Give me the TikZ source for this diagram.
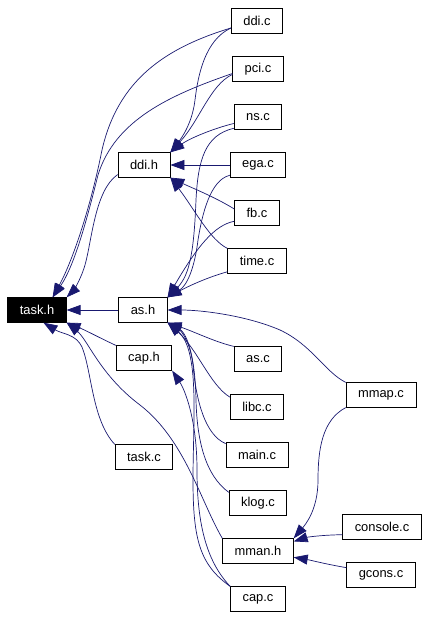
\documentclass[tikz,border=0pt]{standalone}
\usepackage{fontspec}
\setmainfont{Liberation Sans}
\usetikzlibrary{arrows.meta}
\definecolor{edgeblue}{RGB}{25,25,112}

\begin{document}
\begin{tikzpicture}[x=1pt,y=-1pt,
    file/.style={draw=black,line width=0.75pt,inner xsep=12pt,inner ysep=0pt,minimum height=24.5pt,font=\fontsize{12.9}{15}\selectfont},
    root/.style={file,fill=black,text=white},
    dep/.style={draw=edgeblue,line width=0.7pt,-{Triangle[length=14pt,width=10pt]},color=edgeblue}]
    \useasboundingbox (0,0) rectangle (428,618);
    % headers
    \node[root] (taskH) at (37,310) {task.h};
    \node[file] (ddiH) at (144,165) {ddi.h};
    \node[file] (asH) at (143,310) {as.h};
    \node[file] (capH) at (144,358) {cap.h};
    \node[file] (mmanH) at (258,551) {mman.h};
    % sources
    \node[file] (ddiC) at (257,21) {ddi.c};
    \node[file] (pciC) at (258,69) {pci.c};
    \node[file] (nsC) at (258,117) {ns.c};
    \node[file] (egaC) at (258,165) {ega.c};
    \node[file] (fbC) at (257,213) {fb.c};
    \node[file] (timeC) at (257,261) {time.c};
    \node[file] (asC) at (258,359) {as.c};
    \node[file] (libcC) at (257,407) {libc.c};
    \node[file] (mainC) at (257,455) {main.c};
    \node[file] (klogC) at (258,503) {klog.c};
    \node[file] (capC) at (258,599) {cap.c};
    \node[file] (taskC) at (144,457) {task.c};
    \node[file] (mmapC) at (381,395) {mmap.c};
    \node[file] (consoleC) at (382,527) {console.c};
    \node[file] (gconsC) at (381,575) {gcons.c};
    % into task.h
    \draw[dep] (ddiC.195) .. controls (165,48) and (118,80) .. (102,150) .. controls (90,210) and (72,262) .. (taskH.39);
    \draw[dep] (pciC.190) .. controls (170,95) and (115,120) .. (98,175) .. controls (88,215) and (75,265) .. (taskH.39);
    \draw[dep] (ddiH.200) .. controls (95,190) and (92,240) .. (85,265) .. controls (80,282) and (72,292) .. (taskH.north east);
    \draw[dep] (asH.west) -- (taskH.east);
    \draw[dep] (capH.north west) .. controls (100,338) and (85,330) .. (taskH.south east);
    \draw[dep] (taskC.north west) .. controls (92,420) and (92,372) .. (82,347) .. controls (76,334) and (62,334) .. (taskH.-63);
    \draw[dep] (mmanH.north west) .. controls (200,500) and (185,440) .. (140,405) .. controls (100,375) and (88,340) .. (taskH.south east);
    % into ddi.h
    \draw[dep] (ddiC.195) .. controls (205,40) and (198,75) .. (195,100) .. controls (192,125) and (180,140) .. (ddiH.north east);
    \draw[dep] (pciC.192) .. controls (210,85) and (200,120) .. (ddiH.north east);
    \draw[dep] (nsC.195) .. controls (215,128) and (190,138) .. (ddiH.north east);
    \draw[dep] (egaC.west) -- (ddiH.east);
    \draw[dep] (fbC.170) .. controls (215,197) and (190,187) .. (ddiH.south east);
    \draw[dep] (timeC.north west) .. controls (210,240) and (195,210) .. (ddiH.south east);
    % into as.h
    \draw[dep] (nsC.205) .. controls (205,135) and (198,160) .. (196,200) .. controls (194,250) and (190,275) .. (asH.north east);
    \draw[dep] (egaC.200) .. controls (210,180) and (202,215) .. (198,240) .. controls (195,265) and (188,285) .. (asH.north east);
    \draw[dep] (fbC.200) .. controls (215,225) and (198,245) .. (asH.north east);
    \draw[dep] (timeC.200) .. controls (205,278) and (185,288) .. (asH.north east);
    \draw[dep] (mmapC.north west) .. controls (325,372) and (312,345) .. (280,330) .. controls (245,315) and (200,310) .. (asH.east);
    \draw[dep] (asC.north west) .. controls (215,342) and (195,332) .. (asH.south east);
    \draw[dep] (libcC.160) .. controls (210,385) and (198,350) .. (asH.south east);
    \draw[dep] (mainC.160) .. controls (205,435) and (196,400) .. (193,365) .. controls (190,340) and (180,330) .. (asH.south east);
    \draw[dep] (klogC.160) .. controls (205,475) and (197,440) .. (196,400) .. controls (195,350) and (185,332) .. (asH.south east);
    \draw[dep] (capC.north west) .. controls (200,565) and (193,540) .. (193,480) .. controls (193,420) and (200,350) .. (asH.south east);
    % into cap.h and mman.h
    \draw[dep] (capC.north west) .. controls (205,560) and (197,520) .. (197,470) .. controls (197,420) and (185,390) .. (capH.south east);
    \draw[dep] (mmapC.south west) .. controls (322,420) and (318,450) .. (318,480) .. controls (318,510) and (305,525) .. (mmanH.north east);
    \draw[dep] (consoleC.191) .. controls (322,535) and (308,537) .. (mmanH.15);
    \draw[dep] (gconsC.168) .. controls (325,564) and (310,560) .. (mmanH.-10);
\end{tikzpicture}
\end{document}
